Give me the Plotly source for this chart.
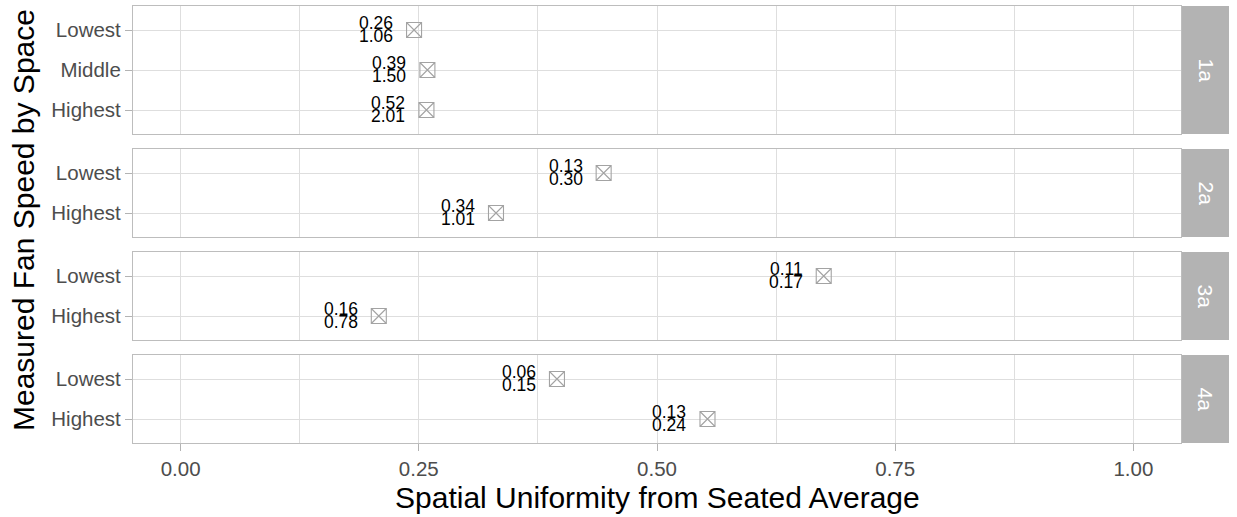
import plotly.graph_objects as go

# Spaces (facet rows) and the fan speeds measured in each
panels = ["1a", "2a", "3a", "4a"]
panel_of_row = ["1a", "1a", "1a", "2a", "2a", "3a", "3a", "4a", "4a"]
fan_speed = ["Lowest", "Middle", "Highest", "Lowest", "Highest",
             "Lowest", "Highest", "Lowest", "Highest"]

# Spatial uniformity from the seated average (x position of each point)
uniformity = [0.245, 0.259, 0.258, 0.444, 0.331, 0.675, 0.208, 0.395, 0.553]

# Two statistics printed beside each point
upper_stat = ["0.26", "0.39", "0.52", "0.13", "0.34", "0.11", "0.16", "0.06", "0.13"]
lower_stat = ["1.06", "1.50", "2.01", "0.30", "1.01", "0.17", "0.78", "0.15", "0.24"]

x_ticks = [0.0, 0.25, 0.5, 0.75, 1.0]
speed_order = ["Lowest", "Middle", "Highest"]

FONT = "Liberation Sans, Arial, sans-serif"
W, H = 1237, 517
ML, MR, MT, MB = 133, 56, 6, 74
plot_w = W - ML - MR
plot_h = H - MT - MB

GRID = "#DEDEDE"
BORDER = "#BDBDBD"
STRIP = "#B3B3B3"

fig = go.Figure()

# vertical extent of each facet panel in pixels from the top of the plot area
unit = 40.0
gap = 15.0
heights = []
for p in panels:
    n = len([s for s, q in zip(fan_speed, panel_of_row) if q == p])
    heights.append((n + 0.2) * unit)
total = sum(heights) + gap * (len(panels) - 1)
scale = plot_h / total

annotations = []
shapes = []
top = 0.0
for i, p in enumerate(panels):
    h = heights[i] * scale
    y_top = 1 - top / plot_h
    y_bot = 1 - (top + h) / plot_h
    top += h + gap * scale

    idx = [k for k, q in enumerate(panel_of_row) if q == p]
    cats = [s for s in speed_order if s in [fan_speed[k] for k in idx]]
    cats_bottom_up = list(reversed(cats))

    xa = "x" if i == 0 else f"x{i + 1}"
    ya = "y" if i == 0 else f"y{i + 1}"
    xkey = "xaxis" if i == 0 else f"xaxis{i + 1}"
    ykey = "yaxis" if i == 0 else f"yaxis{i + 1}"
    bottom = i == len(panels) - 1

    xs = [uniformity[k] for k in idx]
    ys = [fan_speed[k] for k in idx]
    fig.add_trace(go.Scatter(
        x=xs, y=ys, xaxis=xa, yaxis=ya, mode="markers",
        marker=dict(symbol="square-x-open", size=15,
                    color="#A3A3A3", line=dict(width=1.1, color="#A3A3A3")),
        showlegend=False, hoverinfo="skip",
    ))

    for k in idx:
        for txt, dy in ((upper_stat[k], 7), (lower_stat[k], -6)):
            annotations.append(dict(
                x=uniformity[k], y=fan_speed[k], xref=xa, yref=ya,
                text=txt, showarrow=False, xanchor="right", yanchor="middle",
                xshift=-19, yshift=dy,
                font=dict(family=FONT, size=17.5, color="#000000"),
            ))

    fig.layout[xkey] = dict(
        domain=[0, 1], anchor=ya, range=[-0.05, 1.05],
        tickvals=x_ticks, ticktext=[f"{v:.2f}" for v in x_ticks],
        showticklabels=bottom, ticks="outside" if bottom else "",
        ticklen=7, tickwidth=1.2, tickcolor=STRIP,
        tickfont=dict(family=FONT, size=20.5, color="#4D4D4D"),
        showgrid=True, gridcolor=GRID, gridwidth=1.2,
        minor=dict(tickvals=[0.125, 0.375, 0.625, 0.875], showgrid=True,
                   gridcolor=GRID, gridwidth=0.7, ticks=""),
        showline=True, mirror=True, linecolor=BORDER, linewidth=1.2,
        zeroline=False, fixedrange=True,
    )
    fig.layout[ykey] = dict(
        domain=[y_bot, y_top], anchor=xa, type="category",
        categoryorder="array", categoryarray=cats_bottom_up,
        range=[-0.6, len(cats) - 0.4],
        ticks="outside", ticklen=7, tickwidth=1.2, tickcolor=STRIP,
        tickfont=dict(family=FONT, size=20.5, color="#4D4D4D"),
        showgrid=True, gridcolor=GRID, gridwidth=1.2,
        showline=True, mirror=True, linecolor=BORDER, linewidth=1.2,
        zeroline=False, fixedrange=True,
    )

    # facet strip on the right with the space name
    sx0 = (1182 - ML) / plot_w
    sx1 = (1229 - ML) / plot_w
    shapes.append(dict(type="rect", xref="paper", yref="paper",
                       x0=sx0, x1=sx1, y0=y_bot, y1=y_top,
                       fillcolor=STRIP, line=dict(width=0)))
    annotations.append(dict(
        x=(sx0 + sx1) / 2, y=(y_bot + y_top) / 2, xref="paper", yref="paper",
        text=p, textangle=90, showarrow=False,
        xanchor="center", yanchor="middle",
        font=dict(family=FONT, size=21, color="#FFFFFF"),
    ))

# axis titles
annotations.append(dict(
    x=(23 - ML) / plot_w, y=1 - (220 - MT) / plot_h, xref="paper", yref="paper",
    text="Measured Fan Speed by Space", textangle=-90, showarrow=False,
    xanchor="center", yanchor="middle",
    font=dict(family=FONT, size=30, color="#000000"),
))
annotations.append(dict(
    x=0.5, y=1 - (497 - MT) / plot_h, xref="paper", yref="paper",
    text="Spatial Uniformity from Seated Average", showarrow=False,
    xanchor="center", yanchor="middle",
    font=dict(family=FONT, size=30, color="#000000"),
))

fig.update_layout(
    width=W, height=H,
    margin=dict(l=ML, r=MR, t=MT, b=MB),
    paper_bgcolor="#FFFFFF", plot_bgcolor="#FFFFFF",
    shapes=shapes, annotations=annotations,
    showlegend=False,
)

fig.write_html("out.html", config={"displayModeBar": False})
